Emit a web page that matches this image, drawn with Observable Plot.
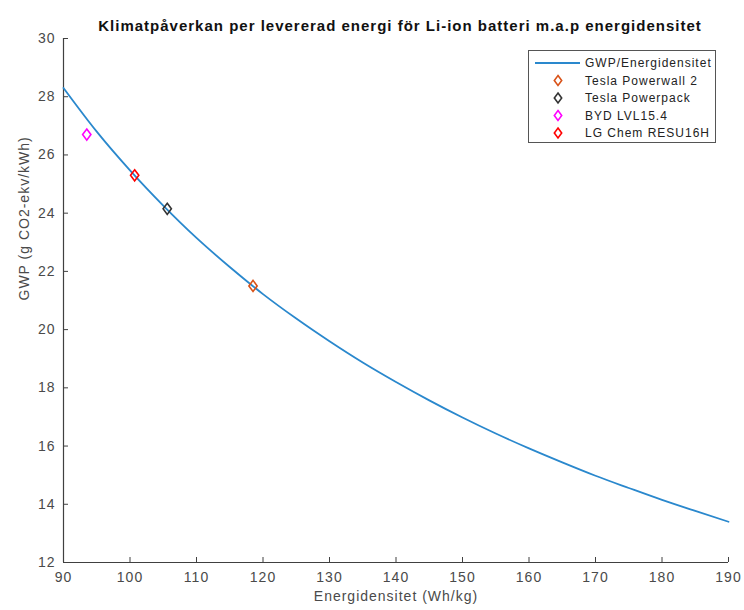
<!DOCTYPE html>
<html><head><meta charset="utf-8">
<script src="https://cdn.jsdelivr.net/npm/d3@7"></script>
<script src="https://cdn.jsdelivr.net/npm/@observablehq/plot@0.6"></script>
<style>
body{margin:0;background:#fff;font-family:"Liberation Sans",Arial,sans-serif}
#wrap{position:relative;width:744px;height:610px}
#legend{position:absolute;left:528px;top:50px}
</style>
</head><body><div id="wrap"></div>
<script>
// Curve (Energidensitet Wh/kg -> GWP)
const curveX   = [90, 95, 100, 105, 110, 115, 120, 125, 130, 135, 140, 145, 150, 155, 160, 165, 170, 175, 180, 185, 190];
const curveGWP = [28.3, 26.8, 25.47, 24.26, 23.15, 22.15, 21.22, 20.38, 19.6, 18.87, 18.2, 17.57, 16.98, 16.43, 15.92, 15.44, 14.98, 14.56, 14.15, 13.77, 13.4];

const products    = ["Tesla Powerwall 2", "Tesla Powerpack", "BYD LVL15.4", "LG Chem RESU16H"];
const productX    = [118.5, 105.6, 93.5, 100.7];
const productGWP  = [21.5, 24.15, 26.7, 25.3];
const productColors = ["#D95319", "#333333", "#FF00FF", "#FF0000"];

const lineName = "GWP/Energidensitet";
const lineColor = "#2a88cd";
const xTicks = [90, 100, 110, 120, 130, 140, 150, 160, 170, 180, 190];
const yTicks = [12, 14, 16, 18, 20, 22, 24, 26, 28, 30];

const title = "Klimatpåverkan per levererad energi för Li-ion batteri m.a.p energidensitet";
const xLabel = "Energidensitet (Wh/kg)";
const yLabel = "GWP (g CO2-ekv/kWh)";

const curve = curveX.map((x, i) => ({x, y: curveGWP[i]}));
const pts = products.map((name, i) => ({name, x: productX[i], y: productGWP[i], color: productColors[i]}));

const tallDiamond = {
  draw(ctx, size) {
    const s = Math.sqrt(size);
    const w = s * 0.52, h = s * 0.7;
    ctx.moveTo(0, -h); ctx.lineTo(w, 0); ctx.lineTo(0, h); ctx.lineTo(-w, 0); ctx.closePath();
  }
};

const axisColor = "#404040";
const textColor = "#4a4a4a";

const chart = Plot.plot({
  width: 744, height: 610,
  marginLeft: 63, marginRight: 16, marginTop: 38, marginBottom: 48,
  style: {fontFamily: "'Liberation Sans', Arial, sans-serif", fontSize: "14px", letterSpacing: "1px", color: textColor, background: "#fff"},
  x: {domain: [90, 190]},
  y: {domain: [12, 30]},
  marks: [
    Plot.axisX({ticks: xTicks, tickSize: -5, tickPadding: 15, label: null, stroke: axisColor, fill: textColor, fontSize: 14}),
    Plot.axisY({ticks: yTicks, tickSize: -5, tickPadding: 13, label: null, stroke: axisColor, fill: textColor, fontSize: 14}),
    Plot.ruleX([90], {stroke: axisColor, strokeWidth: 1.2}),
    Plot.ruleY([12], {stroke: axisColor, strokeWidth: 1.2}),
    Plot.line(curve, {x: "x", y: "y", stroke: lineColor, strokeWidth: 1.8, curve: "monotone-x"}),
    Plot.dot(pts, {x: "x", y: "y", stroke: "color", symbol: tallDiamond, r: 4.5, strokeWidth: 1.6, fill: "none"}),
    Plot.text([title], {frameAnchor: "top", dy: -18, dx: 4, fontWeight: "bold", fontSize: 15, fill: "#111"}),
    Plot.text([xLabel], {frameAnchor: "bottom", dy: 38, fontSize: 14, fill: textColor}),
    Plot.text([yLabel], {frameAnchor: "left", dx: -39, rotate: -90, fontSize: 14, fill: textColor})
  ]
});
document.getElementById("wrap").appendChild(chart);

// Legend
const lw = 188, lh = 93, rowY0 = 13, rowStep = 17.5;
const leg = d3.create("svg").attr("id", "legend").attr("width", lw).attr("height", lh)
  .style("font-family", "'Liberation Sans', Arial, sans-serif").style("font-size", "12px").style("letter-spacing", "1px");
leg.append("rect").attr("x", 0.5).attr("y", 0.5).attr("width", lw - 1).attr("height", lh - 1)
  .attr("fill", "#fff").attr("stroke", "#555").attr("stroke-width", 1);
const entries = [{name: lineName, type: "line", color: lineColor}].concat(pts.map(p => ({name: p.name, type: "dot", color: p.color})));
entries.forEach((e, i) => {
  const y = rowY0 + i * rowStep;
  if (e.type === "line") {
    leg.append("line").attr("x1", 7).attr("x2", 52).attr("y1", y).attr("y2", y).attr("stroke", e.color).attr("stroke-width", 1.8);
  } else {
    leg.append("path").attr("d", d3.symbol(tallDiamond, 16 * Math.PI)()).attr("transform", `translate(30,${y})`)
      .attr("fill", "none").attr("stroke", e.color).attr("stroke-width", 1.6);
  }
  leg.append("text").attr("x", 57).attr("y", y).attr("dy", "0.35em").attr("fill", "#222").text(e.name);
});
document.getElementById("wrap").appendChild(leg.node());
</script>
</body></html>
